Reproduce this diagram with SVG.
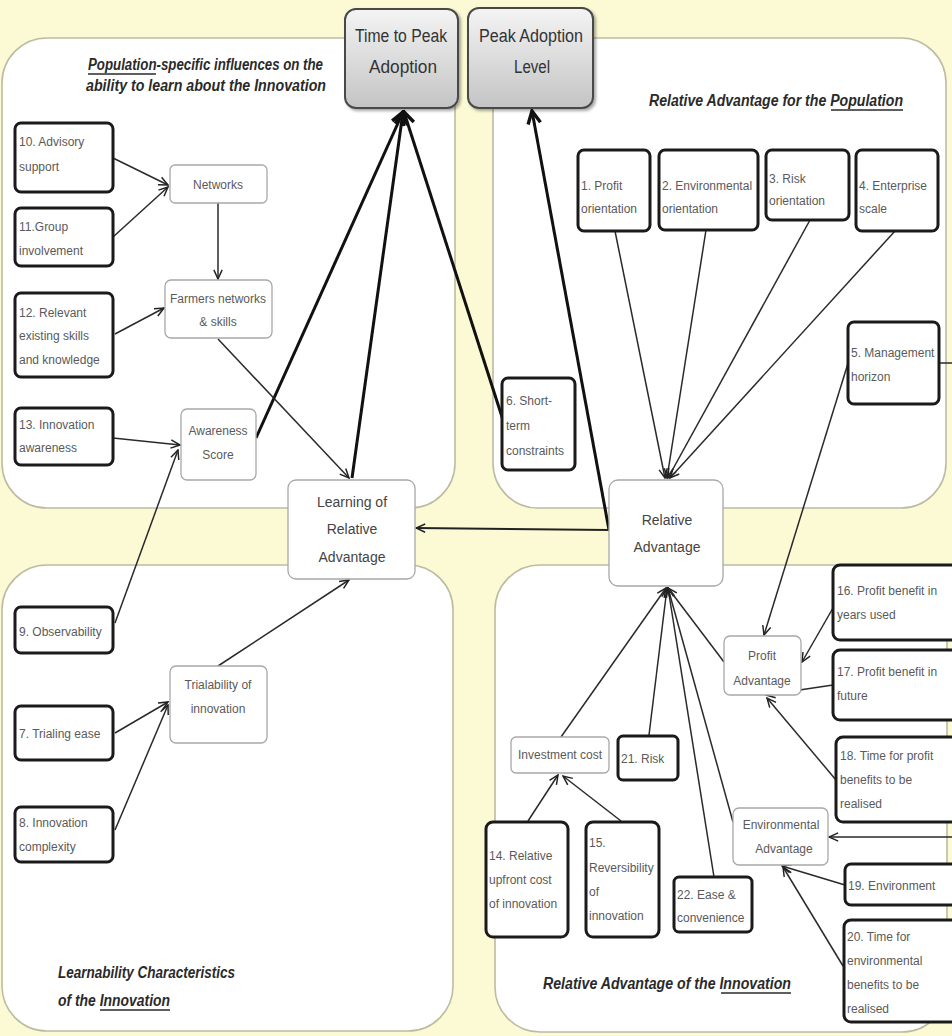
<svg xmlns="http://www.w3.org/2000/svg" width="952" height="1036" viewBox="0 0 952 1036">
<style>
.panel{fill:#fff;stroke:#bdbca2;stroke-width:1.6}
.thick{fill:#fff;stroke:#1a1a1a;stroke-width:3}
.thin{fill:#fff;stroke:#a8a8a8;stroke-width:1.3}
.top{fill:url(#g);stroke:#4a4a4a;stroke-width:2}
.t{font-family:"Liberation Sans",Arial,sans-serif;font-size:12px;fill:#5a5a5a}
.tc{font-family:"Liberation Sans",Arial,sans-serif;font-size:12px;fill:#5a5a5a;text-anchor:middle}
.tm{font-family:"Liberation Sans",Arial,sans-serif;font-size:14px;fill:#444;text-anchor:middle}
.tt{font-family:"Liberation Sans",Arial,sans-serif;font-size:18px;fill:#333;text-anchor:middle}
.ti{font-family:"Liberation Sans",Arial,sans-serif;font-size:16px;font-weight:bold;font-style:italic;fill:#2a2a2a}
.ul{stroke:#2a2a2a;stroke-width:1.3}
.c{fill:none;stroke:#2a2a2a;stroke-width:1.5}
.ck{fill:none;stroke:#111;stroke-width:3}
.cm{fill:none;stroke:#222;stroke-width:2}
</style>
<defs>
<linearGradient id="g" x1="0" y1="0" x2="0" y2="1">
<stop offset="0" stop-color="#f4f4f4"/>
<stop offset="1" stop-color="#c4c4c4"/>
</linearGradient>
<filter id="sh" x="-10%" y="-10%" width="130%" height="130%">
<feDropShadow dx="2" dy="2" stdDeviation="1.5" flood-color="#000" flood-opacity="0.35"/>
</filter>
<marker id="a" viewBox="0 0 12 12" refX="11" refY="6" markerWidth="11" markerHeight="11" markerUnits="userSpaceOnUse" orient="auto">
<path d="M1,1.5 L11,6 L1,10.5" fill="none" stroke="#222" stroke-width="1.6"/>
</marker>
<marker id="ak" viewBox="0 0 14 14" refX="12" refY="7" markerWidth="16" markerHeight="16" markerUnits="userSpaceOnUse" orient="auto">
<path d="M1,1.5 L12,7 L1,12.5" fill="none" stroke="#111" stroke-width="3"/>
</marker>
</defs>
<rect width="952" height="1036" fill="#fcfad4"/>

<g id="panels">
<rect class="panel" x="2" y="38" width="453" height="470" rx="45"/>
<rect class="panel" x="493" y="38" width="453" height="470" rx="45"/>
<rect class="panel" x="2" y="565" width="451" height="466" rx="45"/>
<rect class="panel" x="495" y="565" width="452" height="467" rx="45"/>
</g>

<g id="titles">
<text class="ti" x="88" y="70" textLength="235" lengthAdjust="spacingAndGlyphs">Population-specific influences on the</text>
<line class="ul" x1="88" y1="74" x2="156" y2="74"/>
<text class="ti" x="86" y="91" textLength="240" lengthAdjust="spacingAndGlyphs">ability to learn about the Innovation</text>
<text class="ti" x="649" y="106" textLength="254" lengthAdjust="spacingAndGlyphs">Relative Advantage for the Population</text>
<line class="ul" x1="831" y1="110" x2="903" y2="110"/>
<text class="ti" x="58" y="978" textLength="177" lengthAdjust="spacingAndGlyphs">Learnability Characteristics</text>
<text class="ti" x="58" y="1006" textLength="112" lengthAdjust="spacingAndGlyphs">of the Innovation</text>
<line class="ul" x1="100" y1="1010" x2="170" y2="1010"/>
<text class="ti" x="543" y="989" textLength="248" lengthAdjust="spacingAndGlyphs">Relative Advantage of the Innovation</text>
<line class="ul" x1="721" y1="993" x2="791" y2="993"/>
</g>

<g id="connectors">
<line class="ck" x1="256" y1="438" x2="403" y2="112" marker-end="url(#ak)"/>
<line class="ck" x1="352" y1="478" x2="403" y2="112" marker-end="url(#ak)"/>
<line class="ck" x1="503" y1="420" x2="404" y2="112" marker-end="url(#ak)"/>
<line class="ck" x1="609" y1="530" x2="532" y2="111" marker-end="url(#ak)"/>
<line class="cm" x1="609" y1="530" x2="416" y2="528" marker-end="url(#a)"/>
<line class="c" x1="113" y1="158" x2="168" y2="185" marker-end="url(#a)"/>
<line class="c" x1="113" y1="237" x2="168" y2="187" marker-end="url(#a)"/>
<line class="c" x1="218" y1="203" x2="218" y2="279" marker-end="url(#a)"/>
<line class="c" x1="115" y1="334" x2="164" y2="308" marker-end="url(#a)"/>
<line class="c" x1="218" y1="339" x2="349" y2="478" marker-end="url(#a)"/>
<line class="c" x1="113" y1="438" x2="180" y2="445" marker-end="url(#a)"/>
<line class="c" x1="115" y1="623" x2="178" y2="450" marker-end="url(#a)"/>
<line class="c" x1="115" y1="733" x2="168" y2="702" marker-end="url(#a)"/>
<line class="c" x1="115" y1="830" x2="168" y2="705" marker-end="url(#a)"/>
<line class="c" x1="218" y1="666" x2="349" y2="580" marker-end="url(#a)"/>
<line class="c" x1="615" y1="231" x2="665" y2="478" marker-end="url(#a)"/>
<line class="c" x1="706" y1="230" x2="667" y2="478" marker-end="url(#a)"/>
<line class="c" x1="810" y1="220" x2="668" y2="478" marker-end="url(#a)"/>
<line class="c" x1="895" y1="231" x2="670" y2="478" marker-end="url(#a)"/>
<line class="c" x1="849" y1="360" x2="764" y2="635" marker-end="url(#a)"/>
<path class="c" d="M939,363 H975 V837 H829" marker-end="url(#a)"/>
<line class="c" x1="561" y1="737" x2="666" y2="588" marker-end="url(#a)"/>
<line class="c" x1="649" y1="735" x2="667" y2="588" marker-end="url(#a)"/>
<line class="c" x1="714" y1="877" x2="668" y2="588" marker-end="url(#a)"/>
<line class="c" x1="733" y1="822" x2="668" y2="588" marker-end="url(#a)"/>
<line class="c" x1="724" y1="662" x2="668" y2="588" marker-end="url(#a)"/>
<line class="c" x1="528" y1="821" x2="558" y2="775" marker-end="url(#a)"/>
<line class="c" x1="621" y1="821" x2="563" y2="776" marker-end="url(#a)"/>
<line class="c" x1="833" y1="608" x2="802" y2="662" marker-end="url(#a)"/>
<line class="c" x1="833" y1="685" x2="766" y2="695" marker-end="url(#a)"/>
<line class="c" x1="836" y1="780" x2="767" y2="698" marker-end="url(#a)"/>
<line class="c" x1="845" y1="885" x2="782" y2="866" marker-end="url(#a)"/>
<line class="c" x1="843" y1="966" x2="783" y2="867" marker-end="url(#a)"/>
</g>

<g id="n-time"><rect class="top" filter="url(#sh)" x="345" y="9" width="113" height="99" rx="11"/>
<text class="tt" x="401" y="42" textLength="92" lengthAdjust="spacingAndGlyphs">Time to Peak</text>
<text class="tt" x="403" y="73" textLength="68" lengthAdjust="spacingAndGlyphs">Adoption</text></g>
<g id="n-peak"><rect class="top" filter="url(#sh)" x="468" y="8" width="125" height="100" rx="11"/>
<text class="tt" x="531" y="42" textLength="104" lengthAdjust="spacingAndGlyphs">Peak Adoption</text>
<text class="tt" x="532" y="73" textLength="36" lengthAdjust="spacingAndGlyphs">Level</text></g>

<g id="n10"><rect class="thick" x="15" y="123" width="98" height="69" rx="6"/>
<text class="t" x="19" y="146">10. Advisory</text><text class="t" x="19" y="171">support</text></g>
<g id="n11"><rect class="thick" x="15" y="208" width="98" height="58" rx="6"/>
<text class="t" x="19" y="231">11.Group</text><text class="t" x="19" y="255">involvement</text></g>
<g id="n12"><rect class="thick" x="15" y="293" width="98" height="84" rx="6"/>
<text class="t" x="19" y="317">12. Relevant</text><text class="t" x="19" y="340">existing skills</text><text class="t" x="19" y="364">and knowledge</text></g>
<g id="n13"><rect class="thick" x="15" y="408" width="98" height="57" rx="6"/>
<text class="t" x="19" y="429">13. Innovation</text><text class="t" x="19" y="452">awareness</text></g>
<g id="n-networks"><rect class="thin" x="170" y="165" width="97" height="38" rx="5"/>
<text class="tc" x="218" y="189">Networks</text></g>
<g id="n-farmers"><rect class="thin" x="165" y="280" width="107" height="58" rx="6"/>
<text class="tc" x="218" y="303">Farmers networks</text><text class="tc" x="218" y="326">&amp; skills</text></g>
<g id="n-awareness"><rect class="thin" x="181" y="409" width="75" height="71" rx="6"/>
<text class="tc" x="218" y="435">Awareness</text><text class="tc" x="218" y="459">Score</text></g>
<g id="n-learning"><rect class="thin" x="288" y="480" width="127" height="99" rx="8"/>
<text class="tm" x="352" y="507">Learning of</text><text class="tm" x="352" y="534">Relative</text><text class="tm" x="352" y="562">Advantage</text></g>

<g id="n9"><rect class="thick" x="15" y="607" width="98" height="46" rx="6"/>
<text class="t" x="19" y="636">9. Observability</text></g>
<g id="n7"><rect class="thick" x="15" y="706" width="98" height="54" rx="6"/>
<text class="t" x="19" y="738">7. Trialing ease</text></g>
<g id="n8"><rect class="thick" x="15" y="807" width="98" height="55" rx="6"/>
<text class="t" x="19" y="827">8. Innovation</text><text class="t" x="19" y="851">complexity</text></g>
<g id="n-trial"><rect class="thin" x="170" y="666" width="97" height="77" rx="6"/>
<text class="tc" x="218" y="689">Trialability of</text><text class="tc" x="218" y="713">innovation</text></g>

<g id="n1"><rect class="thick" x="578" y="150" width="72" height="81" rx="6"/>
<text class="t" x="581" y="190">1. Profit</text><text class="t" x="581" y="213">orientation</text></g>
<g id="n2"><rect class="thick" x="659" y="150" width="99" height="80" rx="6"/>
<text class="t" x="662" y="190">2. Environmental</text><text class="t" x="662" y="213">orientation</text></g>
<g id="n3"><rect class="thick" x="766" y="150" width="83" height="70" rx="6"/>
<text class="t" x="769" y="183">3. Risk</text><text class="t" x="769" y="205">orientation</text></g>
<g id="n4"><rect class="thick" x="856" y="150" width="82" height="81" rx="6"/>
<text class="t" x="859" y="190">4. Enterprise</text><text class="t" x="859" y="213">scale</text></g>
<g id="n5"><rect class="thick" x="848" y="322" width="91" height="82" rx="6"/>
<text class="t" x="851" y="357">5. Management</text><text class="t" x="851" y="381">horizon</text></g>
<g id="n6"><rect class="thick" x="502" y="378" width="73" height="92" rx="6"/>
<text class="t" x="506" y="405">6. Short-</text><text class="t" x="506" y="430">term</text><text class="t" x="506" y="455">constraints</text></g>
<g id="n-ra"><rect class="thin" x="609" y="480" width="114" height="106" rx="9"/>
<text class="tm" x="667" y="525">Relative</text><text class="tm" x="667" y="552">Advantage</text></g>

<g id="n-invest"><rect class="thin" x="511" y="737" width="98" height="36" rx="5"/>
<text class="tc" x="560" y="759">Investment cost</text></g>
<g id="n21"><rect class="thick" x="618" y="736" width="60" height="44" rx="5"/>
<text class="t" x="621" y="763">21. Risk</text></g>
<g id="n14"><rect class="thick" x="486" y="822" width="82" height="115" rx="7"/>
<text class="t" x="489" y="860">14. Relative</text><text class="t" x="489" y="884">upfront cost</text><text class="t" x="489" y="908">of innovation</text></g>
<g id="n15"><rect class="thick" x="586" y="822" width="73" height="115" rx="7"/>
<text class="t" x="589" y="847">15.</text><text class="t" x="589" y="872">Reversibility</text><text class="t" x="589" y="896">of</text><text class="t" x="589" y="920">innovation</text></g>
<g id="n22"><rect class="thick" x="674" y="877" width="78" height="55" rx="5"/>
<text class="t" x="677" y="899">22. Ease &amp;</text><text class="t" x="677" y="922">convenience</text></g>
<g id="n-profit"><rect class="thin" x="724" y="636" width="77" height="59" rx="6"/>
<text class="tc" x="762" y="660">Profit</text><text class="tc" x="762" y="685">Advantage</text></g>
<g id="n-env"><rect class="thin" x="733" y="808" width="95" height="57" rx="6"/>
<text class="tc" x="781" y="829">Environmental</text><text class="tc" x="784" y="853">Advantage</text></g>
<g id="n16"><rect class="thick" x="833" y="565" width="130" height="75" rx="7"/>
<text class="t" x="837" y="595">16. Profit benefit in</text><text class="t" x="837" y="619">years used</text></g>
<g id="n17"><rect class="thick" x="833" y="650" width="130" height="70" rx="7"/>
<text class="t" x="837" y="676">17. Profit benefit in</text><text class="t" x="837" y="700">future</text></g>
<g id="n18"><rect class="thick" x="836" y="737" width="130" height="85" rx="7"/>
<text class="t" x="840" y="760">18. Time for profit</text><text class="t" x="840" y="784">benefits to be</text><text class="t" x="840" y="808">realised</text></g>
<g id="n19"><rect class="thick" x="845" y="864" width="120" height="41" rx="6"/>
<text class="t" x="848" y="890">19. Environment</text></g>
<g id="n20"><rect class="thick" x="844" y="920" width="120" height="102" rx="7"/>
<text class="t" x="847" y="941">20. Time for</text><text class="t" x="847" y="965">environmental</text><text class="t" x="847" y="989">benefits to be</text><text class="t" x="847" y="1013">realised</text></g>
</svg>
